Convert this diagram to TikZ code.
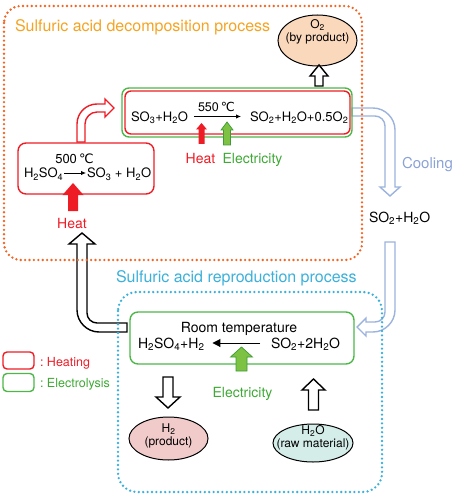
\documentclass[tikz,border=0pt]{standalone}
\usepackage{fontspec}
\setmainfont{TeX Gyre Heros}
\newfontfamily\degfont{DejaVu Sans}
\usetikzlibrary{arrows.meta,calc,shapes.geometric}
\newcommand\ssub[1]{\textsubscript{#1}}
\newcommand\degC{{\degfont\char"2103}}
\definecolor{orTitle}{HTML}{F4A424}
\definecolor{orDot}{HTML}{F26522}
\definecolor{blTitle}{HTML}{3BB0DA}
\definecolor{blDot}{HTML}{3BB0DA}
\definecolor{hred}{HTML}{EE1C25}
\definecolor{egreen}{HTML}{4DB748}
\definecolor{etext}{HTML}{3EA935}
\definecolor{arrgreen}{HTML}{7DC242}
\definecolor{arrgreenD}{HTML}{3E9B35}
\definecolor{cool}{HTML}{9BB3DD}
\definecolor{coolText}{HTML}{8BA2D6}
\definecolor{peach}{HTML}{FAD8BC}
\definecolor{pinkfill}{HTML}{F1CACA}
\definecolor{cyanfill}{HTML}{D4EDE9}
% block arrow: style, tip, tail (only y used), head length, shaft half width, head half width
\newcommand\blockarrow[6]{%
  \path[#1] let \p1=(#2), \p2=(#3), \n1={sign(\y2-\y1)}, \n2={\y1+\n1*#4} in
    (\x1,\y1) -- ({\x1+#6},\n2) -- ({\x1+#5},\n2) -- ({\x1+#5},\y2)
    -- ({\x1-#5},\y2) -- ({\x1-#5},\n2) -- ({\x1-#6},\n2) -- cycle;}
\begin{document}
\begin{tikzpicture}[x=1bp,y=-1bp,
  every node/.style={inner sep=0pt,outer sep=0pt},
  f16/.style={font=\fontsize{16bp}{18bp}\selectfont, text height=11.5bp, text depth=0bp},
  f15/.style={font=\fontsize{15bp}{17bp}\selectfont, text height=10.8bp, text depth=0bp},
  f14/.style={font=\fontsize{14bp}{16bp}\selectfont, text height=10.1bp, text depth=0bp},
  f13/.style={font=\fontsize{13bp}{15bp}\selectfont, text height=9.4bp, text depth=0bp},
  f12/.style={font=\fontsize{12.5bp}{15bp}\selectfont, text height=9bp, text depth=0bp},
  fell/.style={font=\fontsize{12bp}{13bp}\selectfont, align=center},
  gboxs/.style={draw=egreen, line width=1.4bp, rounded corners=7bp},
  rboxs/.style={draw=hred, line width=1.4bp, rounded corners=6bp},
  prod/.style={ellipse, draw=black, line width=1bp},
  hollowblack/.style={draw=black, line width=1.4bp, fill=white},
  hollowred/.style={draw=hred, line width=1.4bp, fill=white},
  hollowblue/.style={draw=cool, line width=1.4bp, fill=white},
  heatarrow/.style={fill=hred},
  elecarrow/.style={fill=arrgreen, draw=arrgreenD, line width=0.7bp},
  dotsO/.style={draw=orDot, line width=2.6bp, line cap=round, dash pattern=on 0bp off 4.4bp, rounded corners=17bp},
  dotsB/.style={draw=blDot, line width=2.6bp, line cap=round, dash pattern=on 0bp off 4.4bp, rounded corners=19bp},
  rxn/.style={line width=0.9bp}
]
\useasboundingbox (0,0) rectangle (456,495);

% titles
\node[f16, text=orTitle, anchor=west] (t1) at (15,26) {Sulfuric acid decomposition process};
\node[f16, text=blTitle, anchor=west] (t2) at (116,277) {Sulfuric acid reproduction process};

% product ellipses
\node[prod, fill=peach, minimum width=79bp, minimum height=51bp] (o2) at (317.5,40.5) {};
\node[fell] (o2t) at (317.5,32) {O\ssub2\\(by product)};
\node[prod, fill=pinkfill, minimum width=79bp, minimum height=43bp] (h2) at (168.5,438.5) {};
\node[fell] (h2t) at (168.5,436) {H\ssub2\\(product)};
\node[prod, fill=cyanfill, minimum width=80bp, minimum height=38bp] (h2o) at (313,443) {};
\node[fell] (h2ot) at (313,437.5) {H\ssub2O\\(raw material)};

% hollow curved arrows
\draw[hollowred] (77,142) -- (77,124) .. controls (77,113) and (86,104) .. (97,104) -- (105,104) -- (105,99) -- (114,108) -- (105,117) -- (105,112) -- (97,112) .. controls (90.5,112) and (85,117.5) .. (85,124) -- (85,142) -- cycle;
\draw[hollowblue] (352,108) -- (373,108) .. controls (385,108) and (395,118) .. (395,130) -- (395,187) -- (400,187) -- (390,196) -- (380,187) -- (385,187) -- (385,126) .. controls (385,120.5) and (380.5,116) .. (375,116) -- (352,116) -- cycle;
\draw[hollowblue] (385,242) -- (395,242) -- (395,310) .. controls (395,322) and (385,332) .. (373,332) -- (366,332) -- (366,336) -- (357,327) -- (366,318) -- (366,322) -- (375,322) .. controls (380.5,322) and (385,317.5) .. (385,312) -- cycle;
\draw[hollowblack] (82,233) -- (95,244) -- (87,244) -- (87,313) .. controls (87,318.5) and (91.5,323) .. (97,323) -- (127,323) -- (127,332) -- (99,332) .. controls (87,332) and (77,322) .. (77,310) -- (77,244) -- (69,244) -- cycle;

% boxes
\node[gboxs, minimum width=230bp, minimum height=49bp] (gbox) at (237,112.5) {};
\node[rboxs, minimum width=225bp, minimum height=43bp] (rbox) at (237.5,112.5) {};
\node[rboxs, rounded corners=8bp, minimum width=136bp, minimum height=51bp] (box1) at (86,168.5) {};
\node[gboxs, rounded corners=8bp, minimum width=224bp, minimum height=52bp] (box3) at (242,338) {};

% reaction in top box
\node[f13, anchor=west] (r2l) at (131,116.5) {SO\ssub3+H\ssub2O};
\node[f13, anchor=west] (r2r) at (250,116.5) {SO\ssub2+H\ssub2O+0.5O\ssub2};
\node[f12] (t550) at (216.5,107.5) {550\,\degC};
\draw[rxn, -{Latex[length=5bp,width=4.5bp]}, shorten <=6bp, shorten >=9bp] (r2l) -- (r2r);

% reaction in first box
\node[f13] (t500) at (74.5,159) {500\,\degC};
\node[f13, anchor=west] (r1l) at (24,173) {H\ssub2SO\ssub4};
\node[f13, anchor=west] (r1r) at (87,173) {SO\ssub3 + H\ssub2O};
\draw[rxn, -{Latex[length=5bp,width=4.5bp]}, shorten <=1bp, shorten >=1bp] (r1l) -- (r1r);

% reaction in bottom box
\node[f14] (troom) at (239,327) {Room temperature};
\node[f14, anchor=west] (r3l) at (138,343) {H\ssub2SO\ssub4+H\ssub2};
\node[f14, anchor=west] (r3r) at (271,343) {SO\ssub2+2H\ssub2O};
\draw[rxn, line width=1bp, -{Triangle[length=8bp,width=8bp]}, shorten <=11bp, shorten >=8bp] (r3r) -- (r3l);

% labels
\node[f14, text=hred] (heat1) at (72,223) {Heat};
\node[f14, text=hred] (heat2) at (200.5,158) {Heat};
\node[f14, text=etext] (elec2) at (252.5,158) {Electricity};
\node[f14, text=etext] (elec3) at (242.5,392) {Electricity};
\node[f15, text=coolText, anchor=west] (cool) at (402,163) {Cooling};
\node[f14, anchor=west] (mid) at (369,217) {SO\ssub2+H\ssub2O};

% input arrows
\blockarrow{heatarrow}{73,183}{73,211}{12bp}{5bp}{10.5bp}
\blockarrow{heatarrow}{201.5,123}{201.5,144}{6.5bp}{3bp}{5.5bp}
\blockarrow{elecarrow}{227,122}{227,145}{8bp}{3.5bp}{6bp}
\blockarrow{elecarrow}{241.5,347}{241.5,371}{10bp}{5.5bp}{11bp}

% product / raw material arrows
\blockarrow{hollowblack}{$(o2.south)+(1.5,-1)$}{$(gbox.north)+(0,-2)$}{11bp}{4bp}{9bp}
\blockarrow{hollowblack}{168,408}{168,377}{11bp}{5bp}{12bp}
\blockarrow{hollowblack}{313.5,379}{313.5,410}{11bp}{5bp}{11.5bp}

% legend
\node[rboxs, rounded corners=4bp, minimum width=31bp, minimum height=17bp] (legH) at (18.5,360.5) {};
\node[gboxs, rounded corners=4bp, minimum width=31bp, minimum height=18bp] (legE) at (18.5,382.5) {};
\node[f12, text=hred, anchor=west] (legHt) at (40,362) {:\hspace{3.5bp}Heating};
\node[f12, text=etext, anchor=west] (legEt) at (40,383) {:\hspace{3.5bp}Electrolysis};

% process regions (dotted)
\draw[dotsO] (4,6) rectangle (362,260);
\draw[dotsB] (118,292) rectangle (382,492);
\end{tikzpicture}
\end{document}
